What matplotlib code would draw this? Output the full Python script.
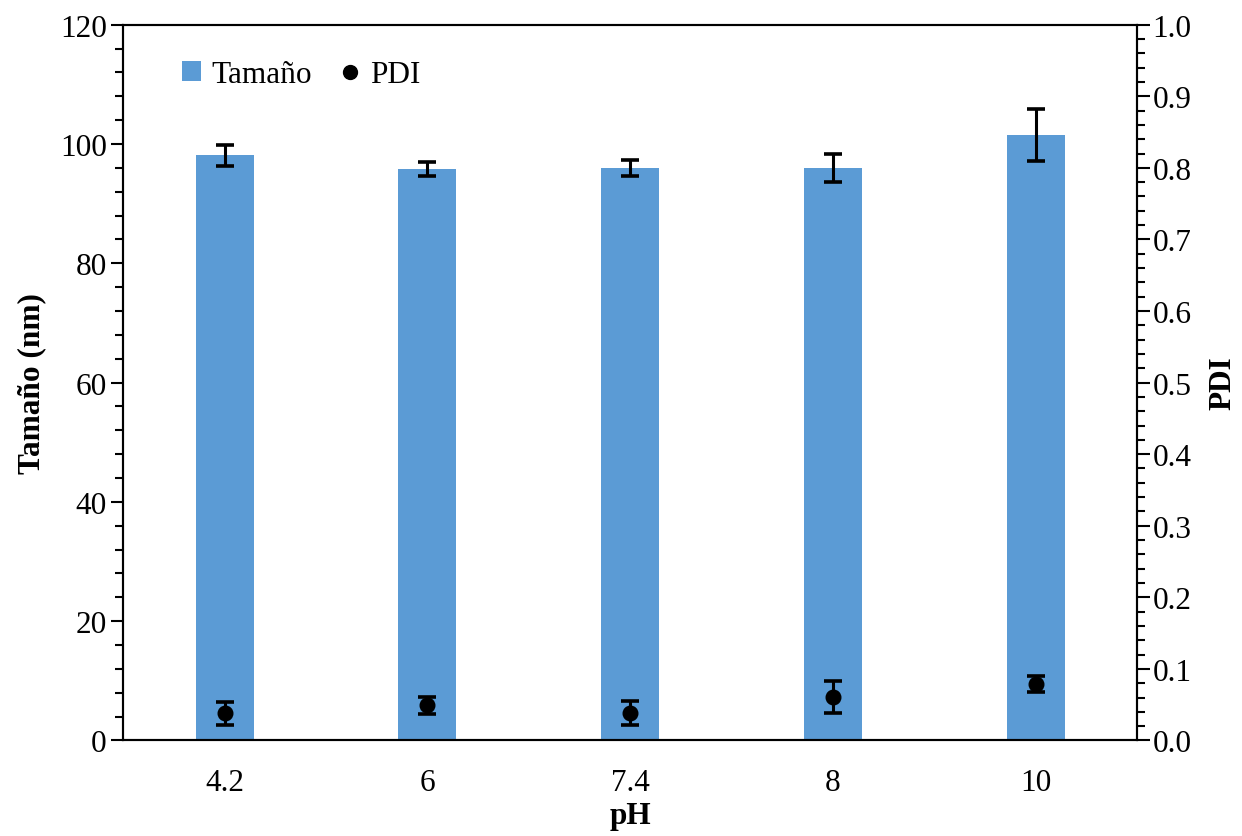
import matplotlib
matplotlib.use("Agg")
import matplotlib.pyplot as plt
from matplotlib.ticker import MultipleLocator, FormatStrFormatter
from matplotlib.lines import Line2D
from matplotlib.patches import Patch

plt.rcParams['font.family'] = ['Liberation Serif', 'DejaVu Serif']

ph_labels = ["4.2", "6", "7.4", "8", "10"]
size_nm = [98.1, 95.8, 96.0, 96.0, 101.5]
size_err = [1.8, 1.2, 1.3, 2.35, 4.4]
pdi = [0.038, 0.049, 0.038, 0.061, 0.079]
pdi_err = [0.016, 0.012, 0.017, 0.022, 0.011]

bar_color = "#5B9BD5"
fs = 22.5

fig = plt.figure(figsize=(12.42, 8.37), dpi=100)
ax = fig.add_axes([0.0993, 0.1141, 0.9155 - 0.0993, 0.9693 - 0.1141])
ax2 = ax.twinx()

x = list(range(len(ph_labels)))
ax.bar(x, size_nm, width=0.286, color=bar_color, zorder=2)
ax.errorbar(x, size_nm, yerr=size_err, fmt='none', ecolor='black',
            elinewidth=2.2, capsize=6.5, capthick=2.6, zorder=3)

ax2.errorbar(x, pdi, yerr=pdi_err, fmt='o', color='black', markersize=10.5,
             ecolor='black', elinewidth=2.2, capsize=6.5, capthick=2.6, zorder=4)

ax.set_xlim(-0.5, len(x) - 0.5)
ax.set_ylim(0, 120)
ax2.set_ylim(0, 1.0)

ax.set_xticks(x)
ax.set_xticklabels(ph_labels)
ax.tick_params(axis='x', length=0, labelsize=fs, pad=20)

ax.yaxis.set_major_locator(MultipleLocator(20))
ax.yaxis.set_minor_locator(MultipleLocator(4))
ax.tick_params(axis='y', which='major', direction='out', length=9, width=1.5,
               labelsize=fs, pad=3)
ax.tick_params(axis='y', which='minor', direction='out', length=6, width=1.5)

ax2.yaxis.set_major_locator(MultipleLocator(0.1))
ax2.yaxis.set_minor_locator(MultipleLocator(0.02))
ax2.yaxis.set_major_formatter(FormatStrFormatter('%.1f'))
ax2.tick_params(axis='y', which='major', direction='out', length=9, width=1.5,
                labelsize=fs, pad=2)
ax2.tick_params(axis='y', which='minor', direction='out', length=6, width=1.5)

for a in (ax, ax2):
    for s in a.spines.values():
        s.set_linewidth(1.5)

ax.set_ylabel("Tamaño (nm)", fontsize=fs, fontweight='bold', labelpad=10)
ax2.set_ylabel("PDI", fontsize=fs, fontweight='bold', labelpad=12, rotation=90)
ax.set_xlabel("pH", fontsize=fs, fontweight='bold', labelpad=3)

handles = [Patch(facecolor=bar_color, edgecolor='none'),
           Line2D([], [], marker='o', color='black', linestyle='none', markersize=10)]
ax2.legend(handles, ["Tamaño", "PDI"], loc='upper left', bbox_to_anchor=(0.03, 0.99),
           ncol=2, frameon=False, fontsize=fs, handlelength=0.6, handletextpad=0.35,
           columnspacing=0.9, handleheight=0.6)

fig.savefig("out.png", dpi=100)
